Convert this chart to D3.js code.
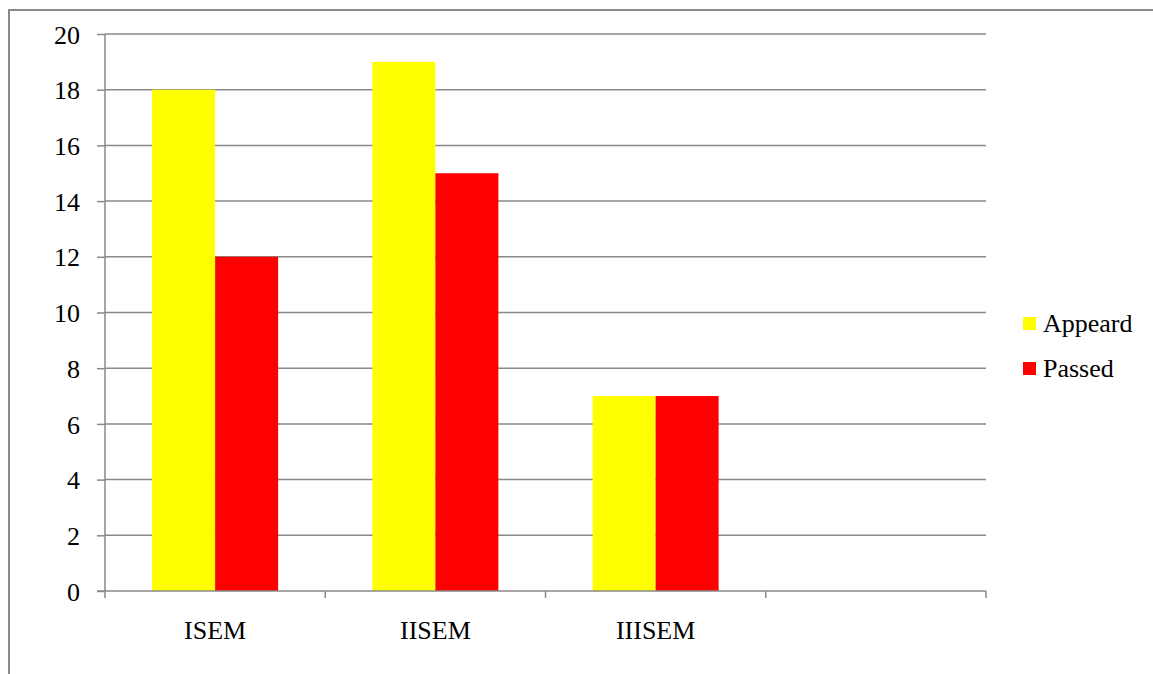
<!DOCTYPE html>
<html><head><meta charset="utf-8">
<script src="https://cdn.jsdelivr.net/npm/d3@7"></script>
<style>html,body{margin:0;padding:0;background:#fff;}svg{display:block;}
svg text{font-family:"Liberation Serif","Times New Roman","DejaVu Serif",serif !important;font-size:26px !important;fill:#000;}</style>
</head><body>
<svg id="c" width="1153" height="674"></svg>
<script>
const categories = ["ISEM", "IISEM", "IIISEM", ""];
const seriesNames = ["Appeard", "Passed"];
const appeard = [18, 19, 7, null];
const passed = [12, 15, 7, null];
const colors = ["#ffff00", "#ff0000"];
const yTicks = [0, 2, 4, 6, 8, 10, 12, 14, 16, 18, 20];

(function () {
const svg = d3.select("#c");
const gray = "#898989";

// outer border (left and top only visible)
svg.append("path").attr("d", "M9,674 V10 H1153").attr("fill", "none").attr("stroke", gray).attr("stroke-width", 2);

const pLeft = 105, pRight = 986, pTop = 34, pBottom = 591;
const x = d3.scaleBand().domain(d3.range(categories.length)).range([pLeft, pRight]).paddingInner(0).paddingOuter(0);
const y = d3.scaleLinear().domain([0, 20]).range([pBottom, pTop]);
const barW = 63;
const x1 = d3.scaleBand().domain([0, 1]).range([0, barW * 2]);

// gridlines
svg.append("g").selectAll("line").data(yTicks.filter(d => d > 0)).join("line")
  .attr("x1", pLeft).attr("x2", pRight)
  .attr("y1", d => y(d)).attr("y2", d => y(d))
  .attr("stroke", gray).attr("stroke-width", 1.5);

// bars
const series = [appeard, passed];
const g = svg.append("g");
series.forEach((vals, si) => {
  g.selectAll(null).data(vals.map((v, i) => ({v, i})).filter(d => d.v != null)).join("rect")
    .attr("x", d => x(d.i) + (x.bandwidth() - barW * 2) / 2 + x1(si))
    .attr("width", x1.bandwidth())
    .attr("y", d => y(d.v))
    .attr("height", d => y(0) - y(d.v))
    .attr("fill", colors[si]);
});

// y axis
const yAxis = svg.append("g").attr("transform", `translate(${pLeft},0)`)
  .call(d3.axisLeft(y).tickValues(yTicks).tickSize(8).tickPadding(17).tickFormat(d3.format("d")));
yAxis.attr("font-family", null).attr("font-size", null);
yAxis.select(".domain").attr("stroke", gray).attr("stroke-width", 1.5).attr("d", `M0,${pTop}V${pBottom}`);
yAxis.selectAll(".tick line").attr("stroke", gray).attr("stroke-width", 1.5);
yAxis.selectAll(".tick text").attr("fill", "#000").attr("dy", "0.35em");

// x axis
const xAxis = svg.append("g").attr("transform", `translate(0,${pBottom})`);
xAxis.append("line").attr("x1", pLeft - 8).attr("x2", pRight).attr("y1", 0).attr("y2", 0).attr("stroke", gray).attr("stroke-width", 1.5);
const boundaries = d3.range(categories.length + 1).map(i => pLeft + i * x.bandwidth());
xAxis.selectAll(".ct").data(boundaries).join("line").attr("class", "ct")
  .attr("x1", d => d).attr("x2", d => d).attr("y1", 0).attr("y2", 7)
  .attr("stroke", gray).attr("stroke-width", 1.5);
xAxis.selectAll(".cl").data(categories).join("text").attr("class", "cl")
  .attr("x", (d, i) => x(i) + x.bandwidth() / 2).attr("y", 48)
  .attr("text-anchor", "middle")
  .text(d => d);

// legend
const lg = svg.append("g");
seriesNames.forEach((n, i) => {
  const ly = 317 + i * 45;
  lg.append("rect").attr("x", 1023).attr("y", ly).attr("width", 13).attr("height", 13).attr("fill", colors[i]);
  lg.append("text").attr("x", 1043).attr("y", ly + 15).text(n);
});
})();
</script>
</body></html>
